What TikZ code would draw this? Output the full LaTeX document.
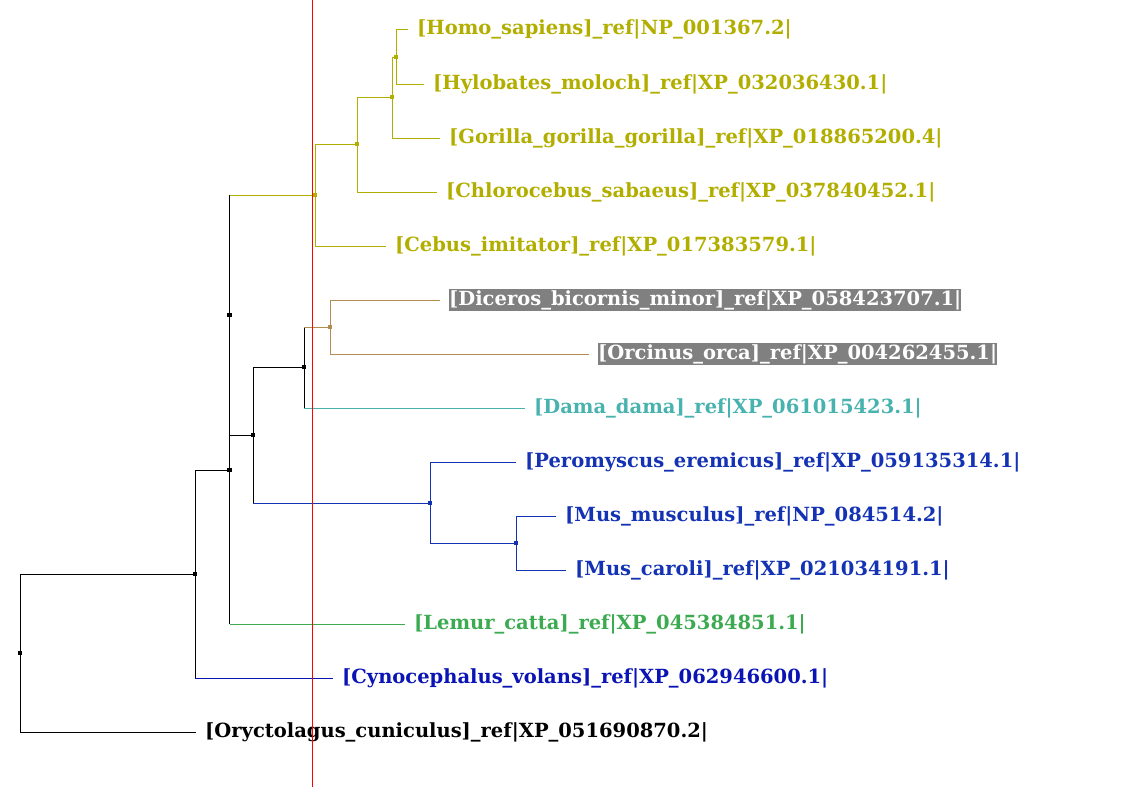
\documentclass[tikz,border=0pt]{standalone}
\usepackage{fontspec}
\setmainfont{DejaVu Serif}
\definecolor{cladeolive}{RGB}{178,174,0}
\definecolor{cladetan}{RGB}{178,140,80}
\definecolor{cladeteal}{RGB}{72,178,174}
\definecolor{rodent}{RGB}{20,50,180}
\definecolor{lemur}{RGB}{60,170,80}
\definecolor{cyno}{RGB}{10,20,180}
\definecolor{boxgray}{RGB}{128,128,128}
\definecolor{redline}{RGB}{255,0,0}
\begin{document}
\begin{tikzpicture}[x=1pt,y=-1pt,
  br/.style={line width=1pt},
  dot/.style={fill, minimum size=4.5pt, inner sep=0pt, draw=none, rectangle},
  lblfont/.style={anchor=west, font=\fontsize{19.5}{22}\selectfont\bfseries},
  lbl/.style={lblfont, inner sep=0pt, xshift=9pt},
  hl/.style={lblfont, fill=boxgray, text=white, inner xsep=0pt, inner ysep=1pt, xshift=9pt}]
\useasboundingbox (0,0) rectangle (1146,787);
% leaf tips
\coordinate (t1) at (408,29);
\coordinate (t2) at (424,84);
\coordinate (t3) at (440,138);
\coordinate (t4) at (437,192);
\coordinate (t5) at (386,246);
\coordinate (t6) at (440,300);
\coordinate (t7) at (589,354);
\coordinate (t8) at (525,408);
\coordinate (t9) at (516,462);
\coordinate (t10) at (556,516);
\coordinate (t11) at (566,570);
\coordinate (t12) at (405,624);
\coordinate (t13) at (333,678);
\coordinate (t14) at (196,732);
% internal nodes
\coordinate (n1) at (396,57);
\coordinate (n2) at (392,97);
\coordinate (n3) at (357,144);
\coordinate (n4) at (315,195);
\coordinate (n5) at (330,327);
\coordinate (n6) at (304,367);
\coordinate (n7) at (516,543);
\coordinate (n8) at (430,503);
\coordinate (n9) at (253,435);
\coordinate (n10) at (229.5,315);
\coordinate (n11) at (229.5,470);
\coordinate (n12) at (195,574);
\coordinate (root) at (20,653);
% red line
\coordinate (rtop) at (312.5,0);
\coordinate (rbot) at (312.5,787);
% labels
\node[lbl, text=cladeolive] (l1) at (t1) {[Homo\_sapiens]\_ref|NP\_001367.2|};
\node[lbl, text=cladeolive] (l2) at (t2) {[Hylobates\_moloch]\_ref|XP\_032036430.1|};
\node[lbl, text=cladeolive] (l3) at (t3) {[Gorilla\_gorilla\_gorilla]\_ref|XP\_018865200.4|};
\node[lbl, text=cladeolive] (l4) at (t4) {[Chlorocebus\_sabaeus]\_ref|XP\_037840452.1|};
\node[lbl, text=cladeolive] (l5) at (t5) {[Cebus\_imitator]\_ref|XP\_017383579.1|};
\node[hl] (l6) at (t6) {[Diceros\_bicornis\_minor]\_ref|XP\_058423707.1|};
\node[hl] (l7) at (t7) {[Orcinus\_orca]\_ref|XP\_004262455.1|};
\node[lbl, text=cladeteal] (l8) at (t8) {[Dama\_dama]\_ref|XP\_061015423.1|};
\node[lbl, text=rodent] (l9) at (t9) {[Peromyscus\_eremicus]\_ref|XP\_059135314.1|};
\node[lbl, text=rodent] (l10) at (t10) {[Mus\_musculus]\_ref|NP\_084514.2|};
\node[lbl, text=rodent] (l11) at (t11) {[Mus\_caroli]\_ref|XP\_021034191.1|};
\node[lbl, text=lemur] (l12) at (t12) {[Lemur\_catta]\_ref|XP\_045384851.1|};
\node[lbl, text=cyno] (l13) at (t13) {[Cynocephalus\_volans]\_ref|XP\_062946600.1|};
\node[lbl, text=black] (l14) at (t14) {[Oryctolagus\_cuniculus]\_ref|XP\_051690870.2|};
% vertical bars (parent colour)
\draw[br, cladeolive] (n1 |- t1) -- (n1 |- t2);
\draw[br, cladeolive] (n2 |- n1) -- (n2 |- t3);
\draw[br, cladeolive] (n3 |- n2) -- (n3 |- t4);
\draw[br, cladeolive] (n4 |- n3) -- (n4 |- t5);
\draw[br, cladetan] (n5 |- t6) -- (n5 |- t7);
\draw[br] (n6 |- n5) -- (n6 |- t8);
\draw[br, rodent] (n7 |- t10) -- (n7 |- t11);
\draw[br, rodent] (n8 |- t9) -- (n8 |- n7);
\draw[br] (n9 |- n6) -- (n9 |- n8);
\draw[br] (n10 |- n4) -- (n10 |- n9);
\draw[br] (n11 |- n10) -- (n11 |- t12);
\draw[br] (n12 |- n11) -- (n12 |- t13);
\draw[br] (root |- n12) -- (root |- t14);
% horizontal branches (child colour)
\draw[br, cladeolive] (n1 |- t1) -- (t1);
\draw[br, cladeolive] (n1 |- t2) -- (t2);
\draw[br, cladeolive] (n2 |- n1) -- (n1);
\draw[br, cladeolive] (n2 |- t3) -- (t3);
\draw[br, cladeolive] (n3 |- n2) -- (n2);
\draw[br, cladeolive] (n3 |- t4) -- (t4);
\draw[br, cladeolive] (n4 |- n3) -- (n3);
\draw[br, cladeolive] (n4 |- t5) -- (t5);
\draw[br, cladetan] (n5 |- t6) -- (t6);
\draw[br, cladetan] (n5 |- t7) -- (t7);
\draw[br, cladetan] (n6 |- n5) -- (n5);
\draw[br, cladeteal] (n6 |- t8) -- (t8);
\draw[br, rodent] (n7 |- t10) -- (t10);
\draw[br, rodent] (n7 |- t11) -- (t11);
\draw[br, rodent] (n8 |- t9) -- (t9);
\draw[br, rodent] (n8 |- n7) -- (n7);
\draw[br] (n9 |- n6) -- (n6);
\draw[br, rodent] (n9 |- n8) -- (n8);
\draw[br, cladeolive] (n10 |- n4) -- (n4);
\draw[br] (n10 |- n9) -- (n9);
\draw[br, lemur] (n11 |- t12) -- (t12);
\draw[br] (n12 |- n11) -- (n11);
\draw[br, cyno] (n12 |- t13) -- (t13);
\draw[br] (root |- n12) -- (n12);
\draw[br] (root |- t14) -- (t14);
% red line
\draw[redline, line width=1.2pt] (rtop) -- (rbot);
% node markers
\node[dot, cladeolive] (m1) at (n1) {};
\node[dot, cladeolive] (m2) at (n2) {};
\node[dot, cladeolive] (m3) at (n3) {};
\node[dot, cladeolive] (m4) at (n4) {};
\node[dot, cladetan] (m5) at (n5) {};
\node[dot, black] (m6) at (n6) {};
\node[dot, rodent] (m7) at (n7) {};
\node[dot, rodent] (m8) at (n8) {};
\node[dot, black] (m9) at (n9) {};
\node[dot, black] (m10) at (n10) {};
\node[dot, black] (m11) at (n11) {};
\node[dot, black] (m12) at (n12) {};
\node[dot, black] (m13) at (root) {};
\end{tikzpicture}
\end{document}
